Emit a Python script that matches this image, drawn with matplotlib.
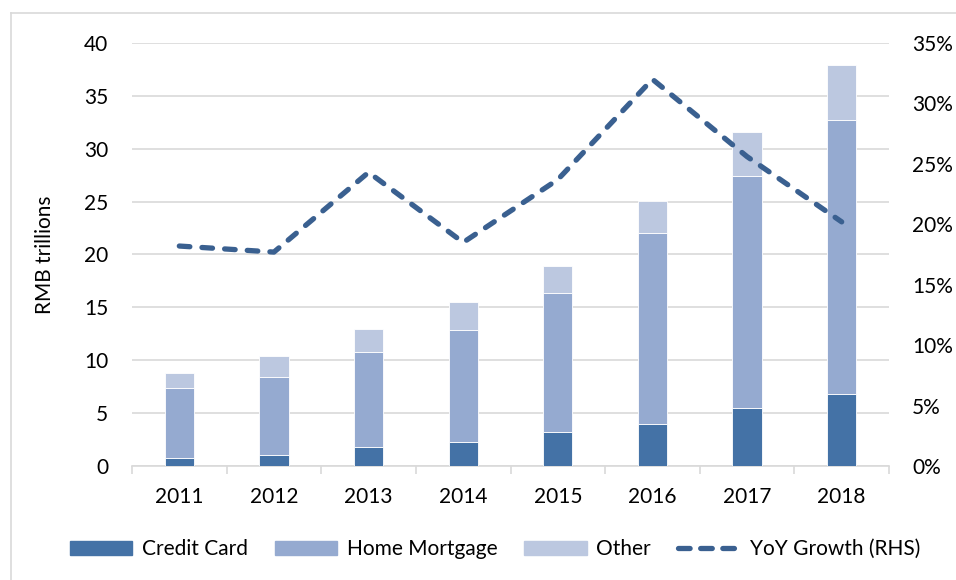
import matplotlib
matplotlib.use("Agg")
import matplotlib.pyplot as plt
from matplotlib.lines import Line2D
from matplotlib.ticker import FuncFormatter, MultipleLocator
import numpy as np

years = ["2011", "2012", "2013", "2014", "2015", "2016", "2017", "2018"]
credit_card = [0.75, 1.0, 1.8, 2.27, 3.22, 3.95, 5.48, 6.8]
home_mortgage_top = [7.41, 8.42, 10.79, 12.9, 16.33, 22.07, 27.44, 32.7]
total_top = [8.83, 10.41, 13.0, 15.5, 18.94, 25.07, 31.6, 37.9]
yoy_growth = [18.2, 17.7, 24.3, 18.5, 23.7, 32.0, 25.6, 20.2]

home_mortgage = [m - c for m, c in zip(home_mortgage_top, credit_card)]
other = [t - m for t, m in zip(total_top, home_mortgage_top)]

plt.rcParams['font.family'] = ['Lato', 'DejaVu Sans']

c_cc = "#4472a6"
c_hm = "#95aad0"
c_ot = "#bcc8e0"
c_line = "#3a6090"
grid_c = "#d9d9d9"
fs = 15

fig = plt.figure(figsize=(9.56, 5.80), dpi=100)
W, H = 956, 580
ax = fig.add_axes([132 / W, 1 - 466 / H, (889 - 132) / W, (466 - 43) / H])

x = np.arange(len(years))
bw = 0.31
ax.bar(x, credit_card, bw, color=c_cc, edgecolor="white", linewidth=0.6, zorder=3)
ax.bar(x, home_mortgage, bw, bottom=credit_card, color=c_hm, edgecolor="white", linewidth=0.6, zorder=3)
ax.bar(x, other, bw, bottom=home_mortgage_top, color=c_ot, edgecolor="white", linewidth=0.6, zorder=3)

ax.set_xlim(-0.5, len(years) - 0.5)
ax.set_ylim(0, 40)
ax.yaxis.set_major_locator(MultipleLocator(5))
ax.grid(axis="y", color=grid_c, linewidth=1.2, zorder=0)
ax.set_axisbelow(True)
for s in ["left", "right", "top"]:
    ax.spines[s].set_visible(False)
ax.spines["bottom"].set_color(grid_c)
ax.spines["bottom"].set_linewidth(1.2)
ax.set_xticks(x)
ax.set_xticklabels(years)
ax.tick_params(axis="x", length=0, pad=15, labelsize=fs, colors="black")
ax.set_xticks(np.arange(-0.5, len(years), 1.0), minor=True)
ax.tick_params(axis="x", which="minor", length=6, color=grid_c, width=1.2)
ax.tick_params(axis="y", length=0, pad=17, labelsize=fs)
ax.set_ylabel("RMB trillions", fontsize=fs)
ax.yaxis.set_label_coords(-0.102, 0.5)

ax2 = ax.twinx()
ax2.plot(x, yoy_growth, color=c_line, linewidth=3.8, linestyle=(0, (2.0, 2.3)),
         dash_capstyle="round", zorder=4)
ax2.set_ylim(0, 35)
ax2.yaxis.set_major_locator(MultipleLocator(5))
ax2.yaxis.set_major_formatter(FuncFormatter(lambda v, p: f"{v:.0f}%"))
ax2.tick_params(axis="y", length=0, pad=16.5, labelsize=fs)
for s in ["left", "right", "top", "bottom"]:
    ax2.spines[s].set_visible(False)

handles = [
    plt.Rectangle((0, 0), 1, 1, color=c_cc),
    plt.Rectangle((0, 0), 1, 1, color=c_hm),
    plt.Rectangle((0, 0), 1, 1, color=c_ot),
    Line2D([0], [0], color=c_line, linewidth=3.8, linestyle=(0, (2.2, 2.0)), dash_capstyle="round"),
]
labels = ["Credit Card", "Home Mortgage", "Other", "YoY Growth (RHS)"]
fig.legend(handles, labels, loc="center", bbox_to_anchor=(495 / W, 1 - 549 / H), ncol=4,
           frameon=False, fontsize=fs, handlelength=3.0, handleheight=0.65,
           columnspacing=1.3, handletextpad=0.45)

# figure border
fig.add_artist(Line2D([11 / W, 11 / W], [0, 1 - 13 / H], transform=fig.transFigure, color=grid_c, linewidth=1.2))
fig.add_artist(Line2D([11 / W, 1], [1 - 13 / H, 1 - 13 / H], transform=fig.transFigure, color=grid_c, linewidth=1.2))

fig.savefig("out.png", dpi=100)
